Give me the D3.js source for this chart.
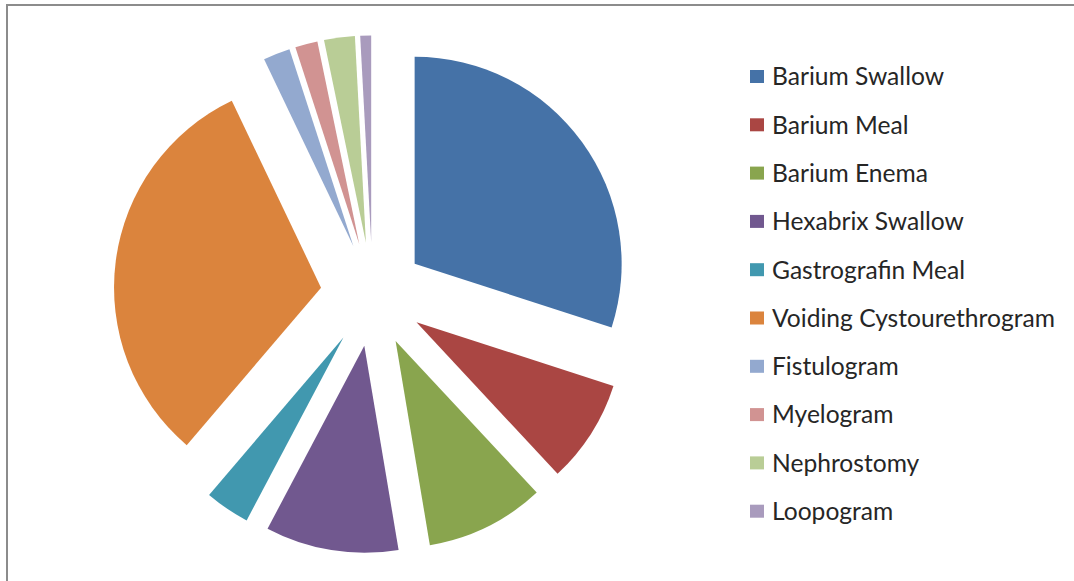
<!DOCTYPE html>
<html>
<head>
<meta charset="utf-8">
<script src="https://cdn.jsdelivr.net/npm/d3@7"></script>
<style>
  html, body { margin: 0; padding: 0; background: #fff; }
  svg { display: block; }
</style>
</head>
<body>
<svg id="chart" width="1074" height="581"></svg>
<script>
// Contrast studies, share of total procedures (%)
const categories = [
  "Barium Swallow", "Barium Meal", "Barium Enema", "Hexabrix Swallow",
  "Gastrografin Meal", "Voiding Cystourethrogram", "Fistulogram",
  "Myelogram", "Nephrostomy", "Loopogram"
];
const values = [30.0, 8.1, 9.3, 10.4, 3.5, 31.7, 2.1, 1.75, 2.4, 0.85];
const colors = [
  "#4572A7", "#AA4643", "#89A54E", "#71588F", "#4198AF",
  "#DB843D", "#93A9CF", "#D19392", "#B9CD96", "#A99BBD"
];

const svg = d3.select("#chart");

// chart frame
svg.append("line").attr("x1", 6).attr("x2", 1074).attr("y1", 5).attr("y2", 5)
  .attr("stroke", "#8c8c8c").attr("stroke-width", 2);
svg.append("line").attr("x1", 7).attr("x2", 7).attr("y1", 4).attr("y2", 581)
  .attr("stroke", "#8c8c8c").attr("stroke-width", 2);

// exploded pie
const cx = 372.6, cy = 294.4, radius = 207, explode = 52;
const pie = d3.pie().sort(null).value(d => d)(values);
const arc = d3.arc().innerRadius(0).outerRadius(radius);
const color = d3.scaleOrdinal().domain(categories).range(colors);

svg.append("g").attr("transform", `translate(${cx},${cy})`)
  .selectAll("path").data(pie).join("path")
  .attr("transform", d => {
    const mid = (d.startAngle + d.endAngle) / 2;
    return `translate(${Math.sin(mid) * explode},${-Math.cos(mid) * explode})`;
  })
  .attr("d", arc)
  .attr("fill", (d, i) => color(categories[i]));

// legend
const rowY = d3.scalePoint().domain(categories).range([76.5, 511.2]);
const legend = svg.append("g").selectAll("g").data(categories).join("g")
  .attr("transform", d => `translate(750,${rowY(d)})`);
legend.append("rect").attr("x", 0).attr("y", -6.5).attr("width", 14).attr("height", 13)
  .attr("fill", d => color(d));
legend.append("text").attr("x", 22).attr("y", 0).attr("dy", "0.36em")
  .attr("font-family", "Lato, 'Open Sans', sans-serif").attr("font-size", 24.6)
  .attr("fill", "#262626").text(d => d);
</script>
</body>
</html>
